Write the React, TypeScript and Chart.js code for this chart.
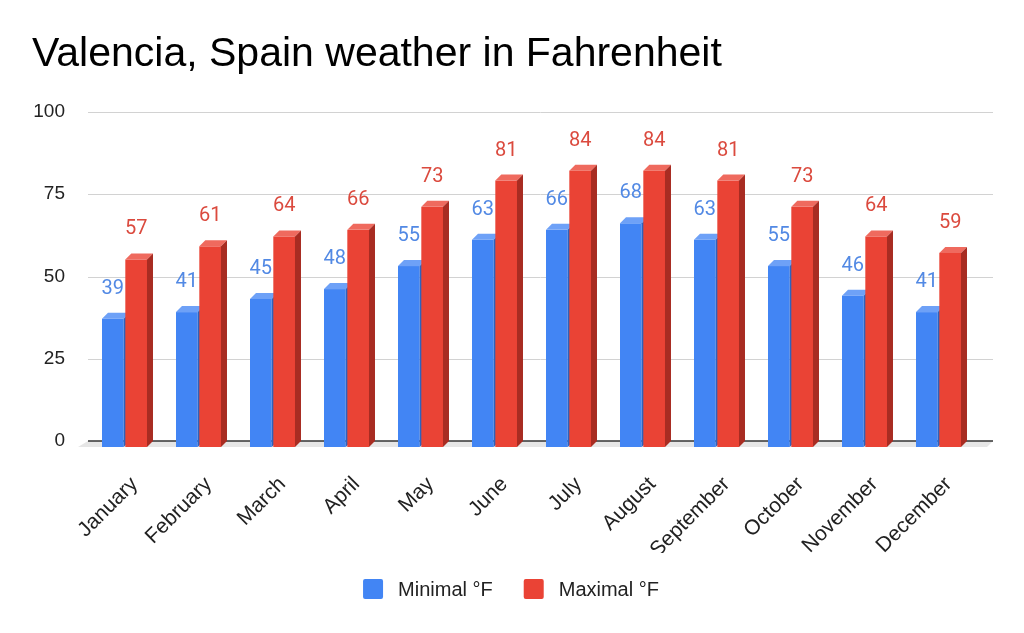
import React, { useEffect, useRef } from "react";
import { Chart, registerables } from "chart.js";

Chart.register(...registerables);

const titleText = "Valencia, Spain weather in Fahrenheit";
const months = [
  "January", "February", "March", "April", "May", "June",
  "July", "August", "September", "October", "November", "December",
];
const minimalF = [39, 41, 45, 48, 55, 63, 66, 68, 63, 55, 46, 41];
const maximalF = [57, 61, 64, 66, 73, 81, 84, 84, 81, 73, 64, 59];
const seriesNames = ["Minimal °F", "Maximal °F"];
const yTickValues = [0, 25, 50, 75, 100];

const DEPTH = 6;
const palettes = [
  { front: "#4285f4", top: "#6ea1f7", side: "#2f62bd", label: "#5289e4" },
  { front: "#ea4335", top: "#ef6a5e", side: "#a82c22", label: "#db4a3e" },
];

const AXIS_FONT = "'Liberation Sans', Arial, sans-serif";

const bars3d = {
  id: "bars3d",
  beforeDatasetsDraw(chart: any) {
    const { ctx, chartArea } = chart;
    const ys = chart.scales.y;
    const L = chartArea.left - 5.5;
    const R = chartArea.right + 11.5;
    const y0 = ys.getPixelForValue(0);
    ctx.save();
    // floor
    ctx.fillStyle = "#e6e6e6";
    ctx.beginPath();
    ctx.moveTo(L, y0);
    ctx.lineTo(R, y0);
    ctx.lineTo(R - DEPTH, y0 + DEPTH);
    ctx.lineTo(L - DEPTH - 4, y0 + DEPTH);
    ctx.closePath();
    ctx.fill();
    // grid lines
    ctx.strokeStyle = "#d2d2d2";
    ctx.lineWidth = 1;
    yTickValues.forEach((v) => {
      if (v === 0) return;
      const py = Math.round(ys.getPixelForValue(v)) + 0.5;
      ctx.beginPath();
      ctx.moveTo(L, py);
      ctx.lineTo(R, py);
      ctx.stroke();
    });
    // zero line
    ctx.strokeStyle = "#333333";
    ctx.lineWidth = 1.5;
    ctx.beginPath();
    ctx.moveTo(L, y0);
    ctx.lineTo(R, y0);
    ctx.stroke();
    ctx.restore();
  },
  beforeDatasetDraw() {
    return false;
  },
  afterDatasetsDraw(chart: any) {
    const { ctx } = chart;
    ctx.save();
    chart.data.datasets.forEach((ds: any, i: number) => {
      const meta = chart.getDatasetMeta(i);
      const pal = palettes[i];
      meta.data.forEach((bar: any) => {
        const { x, y, base, width } = bar.getProps(["x", "y", "base", "width"], true);
        const l = x - width / 2;
        const r = x + width / 2;
        // front face
        ctx.fillStyle = pal.front;
        ctx.fillRect(l - DEPTH, y + DEPTH, width, base - y);
        // top face
        ctx.fillStyle = pal.top;
        ctx.beginPath();
        ctx.moveTo(l - DEPTH, y + DEPTH);
        ctx.lineTo(l, y);
        ctx.lineTo(r, y);
        ctx.lineTo(r - DEPTH, y + DEPTH);
        ctx.closePath();
        ctx.fill();
        // side face
        ctx.fillStyle = pal.side;
        ctx.beginPath();
        ctx.moveTo(r - DEPTH, y + DEPTH);
        ctx.lineTo(r, y);
        ctx.lineTo(r, base);
        ctx.lineTo(r - DEPTH, base + DEPTH);
        ctx.closePath();
        ctx.fill();
      });
    });
    // data labels
    ctx.font = "20px Roboto, 'Liberation Sans', Arial, sans-serif";
    ctx.textAlign = "center";
    ctx.textBaseline = "alphabetic";
    chart.data.datasets.forEach((ds: any, i: number) => {
      const meta = chart.getDatasetMeta(i);
      ctx.fillStyle = palettes[i].label;
      meta.data.forEach((bar: any, j: number) => {
        const { x, y } = bar.getProps(["x", "y"], true);
        ctx.fillText(String(ds.data[j]), x - DEPTH, y - 19);
      });
    });
    ctx.restore();
  },
};

const bottomLegend = {
  id: "bottomLegend",
  afterDraw(chart: any) {
    const { ctx } = chart;
    const box = 20;
    const textGap = 15;
    const itemGap = 31;
    ctx.save();
    ctx.font = `20px ${AXIS_FONT}`;
    const widths = chart.data.datasets.map((ds: any) => ctx.measureText(ds.label).width);
    const total =
      widths.reduce((a: number, b: number) => a + b, 0) +
      widths.length * (box + textGap) +
      (widths.length - 1) * itemGap;
    let x = chart.width / 2 - total / 2 - 1;
    const cy = chart.height - 44;
    ctx.textBaseline = "middle";
    ctx.textAlign = "left";
    chart.data.datasets.forEach((ds: any, i: number) => {
      ctx.fillStyle = palettes[i].front;
      ctx.beginPath();
      if ((ctx as any).roundRect) (ctx as any).roundRect(x, cy - box / 2, box, box, 2);
      else ctx.rect(x, cy - box / 2, box, box);
      ctx.fill();
      ctx.fillStyle = "#222222";
      ctx.fillText(ds.label, x + box + textGap, cy + 1);
      x += box + textGap + widths[i] + itemGap;
    });
    ctx.restore();
  },
};

export default function App() {
  const canvasRef = useRef<HTMLCanvasElement | null>(null);

  useEffect(() => {
    const canvas = canvasRef.current;
    if (!canvas) return;
    const chart = new Chart(canvas, {
      type: "bar",
      data: {
        labels: months,
        datasets: [
          {
            label: seriesNames[0],
            data: minimalF,
            backgroundColor: palettes[0].front,
            borderWidth: 0,
          },
          {
            label: seriesNames[1],
            data: maximalF,
            backgroundColor: palettes[1].front,
            borderWidth: 0,
          },
        ],
      },
      options: {
        responsive: false,
        animation: false,
        layout: { padding: { left: 32, right: 42.5, top: 0, bottom: 80 } },
        datasets: {
          bar: { categoryPercentage: 0.63, barPercentage: 0.93 },
        },
        plugins: {
          title: {
            display: true,
            text: titleText,
            align: "start",
            color: "#000000",
            font: { family: AXIS_FONT, size: 41, weight: "normal" },
            padding: { top: 30.4, bottom: 32.4 },
          },
          legend: { display: false },
          tooltip: { enabled: false },
        },
        scales: {
          x: {
            grid: { display: false, drawTicks: false },
            border: { display: false },
            ticks: {
              autoSkip: false,
              maxRotation: 45,
              minRotation: 45,
              padding: 31,
              labelOffset: 4,
              color: "#222222",
              font: { family: AXIS_FONT, size: 21 },
            },
            afterFit: (scale: any) => {
              scale.height = 112;
            },
          },
          y: {
            min: 0,
            max: 100,
            grid: { display: false, drawTicks: false },
            border: { display: false },
            ticks: {
              stepSize: 25,
              padding: 28.5,
              color: "#222222",
              font: { family: AXIS_FONT, size: 19 },
            },
            afterFit: (scale: any) => {
              scale.width = 61.5;
            },
          },
        },
      },
      plugins: [bars3d, bottomLegend],
    });
    return () => chart.destroy();
  }, []);

  return (
    <div style={{ position: "fixed", left: 0, top: 0, width: 1024, height: 633, background: "#ffffff" }}>
      <canvas ref={canvasRef} width={1024} height={633} />
    </div>
  );
}
